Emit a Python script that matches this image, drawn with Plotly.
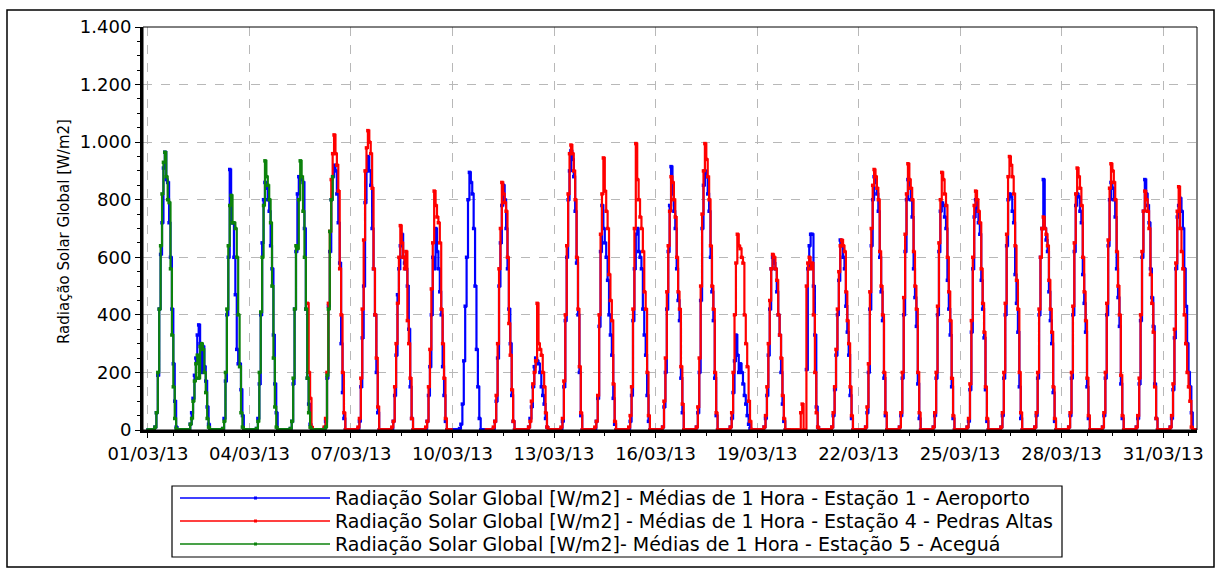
import plotly.graph_objects as go
from datetime import datetime, timedelta

# hourly means, hours 05h..20h of each day (night hours are 0); None = no data
horas = list(range(5, 21))
dias = list(range(1, 32))

aeroporto = [
    [10, 60, 190, 420, 610, 720, 910, 965, 870, 860, 720, 600, 420, 230, 100, 10],
    [0, 20, 60, 110, 190, 250, 330, 365, 300, 200, 290, 220, 170, 80, 20, 0],
    [5, 40, 170, 400, 600, 905, 720, 720, 600, 470, 280, 230, 230, 140, 50, 0],
    [5, 40, 160, 400, 650, 800, 860, 840, 800, 760, 640, 560, 330, 160, 60, 0],
    [5, 30, 160, 420, 620, 820, 880, 880, 870, 860, 700, 420, 180, 90, 20, 0],
    [5, 30, 180, 430, 620, 800, 880, 920, 900, 820, 720, 580, 300, 130, 40, 0],
    [5, 30, 150, 320, 500, 790, 900, 950, 900, 850, 700, 560, 400, 200, 60, 0],
    [5, 30, 120, 260, 470, 560, 640, 680, 600, 580, 560, 500, 350, 150, 40, 0],
    [5, 30, 120, 220, 400, 600, 560, 700, 620, 560, 480, 400, 220, 120, 30, 0],
    [5, 20, 90, 240, 430, 600, 800, 895, 860, 820, 700, 500, 280, 150, 40, 0],
    [5, 30, 100, 250, 500, 650, 780, 850, 800, 700, 560, 420, 300, 120, 30, 0],
    [0, 10, 40, 80, 150, 220, 250, 240, 230, 200, 150, 120, 90, 40, 10, 0],
    [5, 30, 150, 380, 600, 800, 900, 970, 940, 880, 760, 580, 400, 200, 50, 0],
    [5, 30, 110, 360, 620, 780, 700, 650, 600, 520, 400, 330, 260, 110, 20, 0],
    [5, 30, 120, 380, 560, 680, 700, 620, 600, 560, 420, 330, 260, 120, 30, 0],
    [10, 80, 200, 420, 620, 780, 915, 820, 760, 700, 560, 450, 380, 180, 60, 0],
    [10, 60, 200, 450, 700, 850, 900, 880, 820, 760, 600, 480, 380, 180, 50, 0],
    [10, 40, 130, 240, 330, 260, 200, 230, 200, 160, 120, 90, 50, 20, 5, 0],
    [10, 40, 120, 260, 420, 560, 600, 580, 560, 480, 400, 330, 200, 90, 30, 0],
    [None, None, None, None, None, None, 210, 560, 640, 680, 680, 500, 330, 80, 10, 0],
    [10, 50, 140, 260, 400, 520, 660, 640, 600, 560, 430, 340, 260, 120, 40, 0],
    [10, 60, 200, 420, 640, 800, 880, 860, 820, 760, 600, 480, 380, 180, 50, 0],
    [10, 50, 180, 400, 620, 800, 870, 840, 800, 740, 560, 460, 360, 160, 40, 0],
    [10, 50, 180, 400, 620, 760, 790, 780, 740, 700, 520, 420, 330, 150, 40, 0],
    [10, 30, 140, 340, 560, 740, 800, 760, 720, 680, 520, 420, 320, 140, 30, 0],
    [10, 50, 180, 400, 640, 800, 820, 810, 760, 720, 540, 440, 340, 150, 40, 0],
    [10, 50, 180, 400, 600, 700, 870, 700, 660, 620, 480, 380, 300, 130, 30, 0],
    [10, 50, 180, 400, 620, 780, 820, 810, 760, 720, 540, 440, 340, 150, 40, 0],
    [10, 50, 180, 400, 640, 800, 860, 840, 800, 740, 560, 460, 360, 160, 40, 0],
    [10, 40, 160, 380, 600, 760, 870, 820, 780, 720, 560, 460, 360, 160, 40, 0],
    [10, 40, 140, 320, 560, 740, 780, 805, 760, 700, 560, 430, 300, 200, 150, 60],
]

pedras_altas = [
    None, None, None, None,
    [None] * 12 + [440, 200, 110, 10],
    [10, 40, 200, 440, 690, 870, 960, 1025, 960, 920, 830, 560, 400, 200, 60, 0],
    [10, 40, 180, 420, 660, 900, 980, 1040, 1000, 960, 840, 560, 400, 250, 80, 0],
    [10, 30, 150, 300, 440, 600, 710, 650, 600, 560, 620, 380, 300, 180, 40, 0],
    [10, 30, 150, 280, 490, 650, 830, 780, 740, 720, 650, 420, 300, 180, 40, 0],
    None,
    [10, 30, 120, 300, 560, 700, 860, 820, 790, 760, 600, 370, 260, 140, 30, 0],
    [0, 10, 30, 100, 160, 200, 240, 440, 300, 280, 260, 200, 150, 60, 10, 0],
    [10, 40, 170, 400, 640, 820, 960, 990, 960, 900, 800, 600, 420, 220, 60, 0],
    [10, 30, 120, 400, 680, 820, 945, 830, 760, 700, 540, 450, 380, 160, 30, 0],
    [10, 50, 150, 420, 700, 995, 870, 800, 740, 700, 620, 480, 420, 200, 50, 0],
    [10, 100, 250, 480, 640, 760, 880, 860, 800, 740, 600, 480, 420, 220, 90, 0],
    [10, 80, 250, 500, 750, 900, 995, 940, 880, 800, 640, 500, 420, 200, 60, 0],
    [10, 60, 200, 400, 580, 680, 640, 630, 600, 580, 400, 300, 220, 100, 30, 0],
    [10, 50, 150, 300, 450, 560, 610, 600, 560, 520, 400, 330, 250, 120, 40, 0],
    [0, 0, 60, 90, 0, 0, 500, 580, 600, 560, 580, 400, 200, 60, 10, 0],
    [10, 60, 150, 280, 420, 550, 640, 660, 640, 620, 480, 380, 300, 150, 50, 0],
    [10, 80, 230, 480, 700, 850, 905, 880, 840, 800, 620, 500, 400, 200, 60, 0],
    [10, 60, 200, 460, 680, 820, 925, 870, 840, 800, 620, 500, 420, 200, 60, 0],
    [10, 60, 200, 430, 650, 800, 895, 870, 820, 780, 600, 480, 380, 180, 50, 0],
    [10, 40, 160, 380, 600, 780, 830, 800, 760, 720, 560, 440, 340, 150, 40, 0],
    [10, 60, 200, 440, 680, 880, 950, 920, 880, 820, 640, 520, 420, 200, 60, 0],
    [10, 60, 200, 420, 600, 700, 740, 700, 680, 640, 520, 420, 340, 150, 40, 0],
    [10, 60, 200, 430, 650, 820, 910, 880, 840, 780, 600, 480, 380, 180, 50, 0],
    [10, 60, 200, 440, 660, 840, 925, 900, 860, 800, 620, 500, 400, 190, 50, 0],
    [10, 50, 180, 400, 620, 760, 830, 800, 760, 700, 540, 440, 340, 150, 40, 0],
    [10, 50, 160, 350, 580, 760, 845, 700, 620, 560, 400, 300, 200, 150, 100, 10],
]

acegua = [
    [10, 60, 200, 420, 640, 820, 930, 965, 880, 800, 790, 560, 330, 150, 40, 5],
    [0, 20, 40, 100, 170, 230, 260, 180, 290, 300, 280, 200, 130, 40, 10, 0],
    [5, 30, 200, 420, 640, 780, 815, 720, 720, 700, 600, 400, 220, 60, 10, 0],
    [5, 30, 200, 410, 600, 780, 935, 880, 850, 800, 720, 500, 250, 80, 10, 0],
    [5, 30, 180, 420, 640, 630, 800, 935, 880, 760, 600, 420, 180, 60, 10, 0],
    [0, 10, 190, 420, 690, 800, 880] + [None] * 9,
] + [None] * 25

nomes = [
    "Radiação Solar Global [W/m2] - Médias de 1 Hora - Estação 1 - Aeroporto",
    "Radiação Solar Global [W/m2] - Médias de 1 Hora - Estação 4 - Pedras Altas",
    "Radiação Solar Global [W/m2]- Médias de 1 Hora - Estação 5 - Aceguá",
]
cores = ["#0000ff", "#ff0000", "#0c820c"]


def hourly(series):
    xs, ys = [], []
    for d, vals in zip(dias, series):
        for h in range(24):
            xs.append(datetime(2013, 3, d) + timedelta(hours=h))
            if vals is None:
                ys.append(None)
            elif h < horas[0]:
                ys.append(None if vals[0] is None else 0)
            elif h > horas[-1]:
                ys.append(None if vals[-1] is None else 0)
            else:
                ys.append(vals[h - horas[0]])
    return xs, ys


W, H = 1222, 571
ML, MR, MT, MB = 143, 25, 27, 141
PW, PH = W - ML - MR, H - MT - MB


def px(x):
    return (x - ML) / PW


def py(y):
    return (H - MB - y) / PH


FONT = "DejaVu Sans"

fig = go.Figure()
for serie, nome, cor in zip([aeroporto, pedras_altas, acegua], nomes, cores):
    xs, ys = hourly(serie)
    fig.add_trace(go.Scatter(
        x=xs, y=ys, name=nome, mode="lines+markers",
        line=dict(color=cor, width=2.2, shape="hv"),
        marker=dict(symbol="square", size=3.5, color=cor),
        connectgaps=False, showlegend=False,
    ))

shapes = [
    # outer frame
    dict(type="rect", xref="paper", yref="paper", x0=px(7), x1=px(1214), y0=py(567), y1=py(10),
         line=dict(color="black", width=1.5)),
    # plot frame (top/right)
    dict(type="rect", xref="paper", yref="paper", x0=0, x1=1, y0=0, y1=1,
         line=dict(color="black", width=1)),
    # legend box
    dict(type="rect", xref="paper", yref="paper", x0=px(172), x1=px(1062), y0=py(557), y1=py(486),
         line=dict(color="black", width=1.2)),
]
annotations = [
    dict(text="Radiação Solar Global [W/m2]", textangle=-90, xref="paper", yref="paper",
         x=px(53), y=py(232), showarrow=False, font=dict(family=FONT, size=15, color="black")),
]
for i, (nome, cor) in enumerate(zip(nomes, cores)):
    yy = 498 + 23 * i
    shapes.append(dict(type="line", xref="paper", yref="paper", x0=px(180), x1=px(330),
                       y0=py(yy), y1=py(yy), line=dict(color=cor, width=1.7)))
    shapes.append(dict(type="rect", xref="paper", yref="paper", x0=px(254), x1=px(257),
                       y0=py(yy + 1.5), y1=py(yy - 1.5), line=dict(width=0), fillcolor=cor))
    annotations.append(dict(text=nome, xref="paper", yref="paper", x=px(333), y=py(yy),
                            xanchor="left", yanchor="middle", showarrow=False,
                            font=dict(family=FONT, size=19, color="black")))

fig.update_layout(
    width=W, height=H,
    margin=dict(l=ML, r=MR, t=MT, b=MB),
    paper_bgcolor="white", plot_bgcolor="white",
    separators=",.",
    font=dict(family=FONT, size=18, color="black"),
    shapes=shapes, annotations=annotations,
    xaxis=dict(
        type="date", range=["2013-02-28 20:30", "2013-04-01 00:00"],
        tick0="2013-03-01", dtick=3 * 86400000, tickformat="%d/%m/%y",
        showgrid=True, gridcolor="#b8b8b8", griddash="dash", gridwidth=1,
        showline=True, linecolor="black", linewidth=3, zeroline=False,
        ticks="outside", ticklen=5, tickcolor="black",
        tickfont=dict(family=FONT, size=18, color="black"),
        minor=dict(tick0="2013-03-01", dtick=18 * 3600000, ticks="outside", ticklen=3,
                   tickcolor="black", showgrid=False),
    ),
    yaxis=dict(
        range=[0, 1400], tick0=0, dtick=200, separatethousands=True,
        showgrid=True, gridcolor="#b8b8b8", griddash="dash", gridwidth=1,
        showline=True, linecolor="black", linewidth=3, zeroline=False,
        ticks="outside", ticklen=5, tickcolor="black",
        tickfont=dict(family=FONT, size=18, color="black"),
        minor=dict(dtick=50, ticks="outside", ticklen=3, tickcolor="black", showgrid=False),
    ),
)

fig.write_html("out.html", config={"displayModeBar": False},
               post_script="document.body.style.margin='0';")
